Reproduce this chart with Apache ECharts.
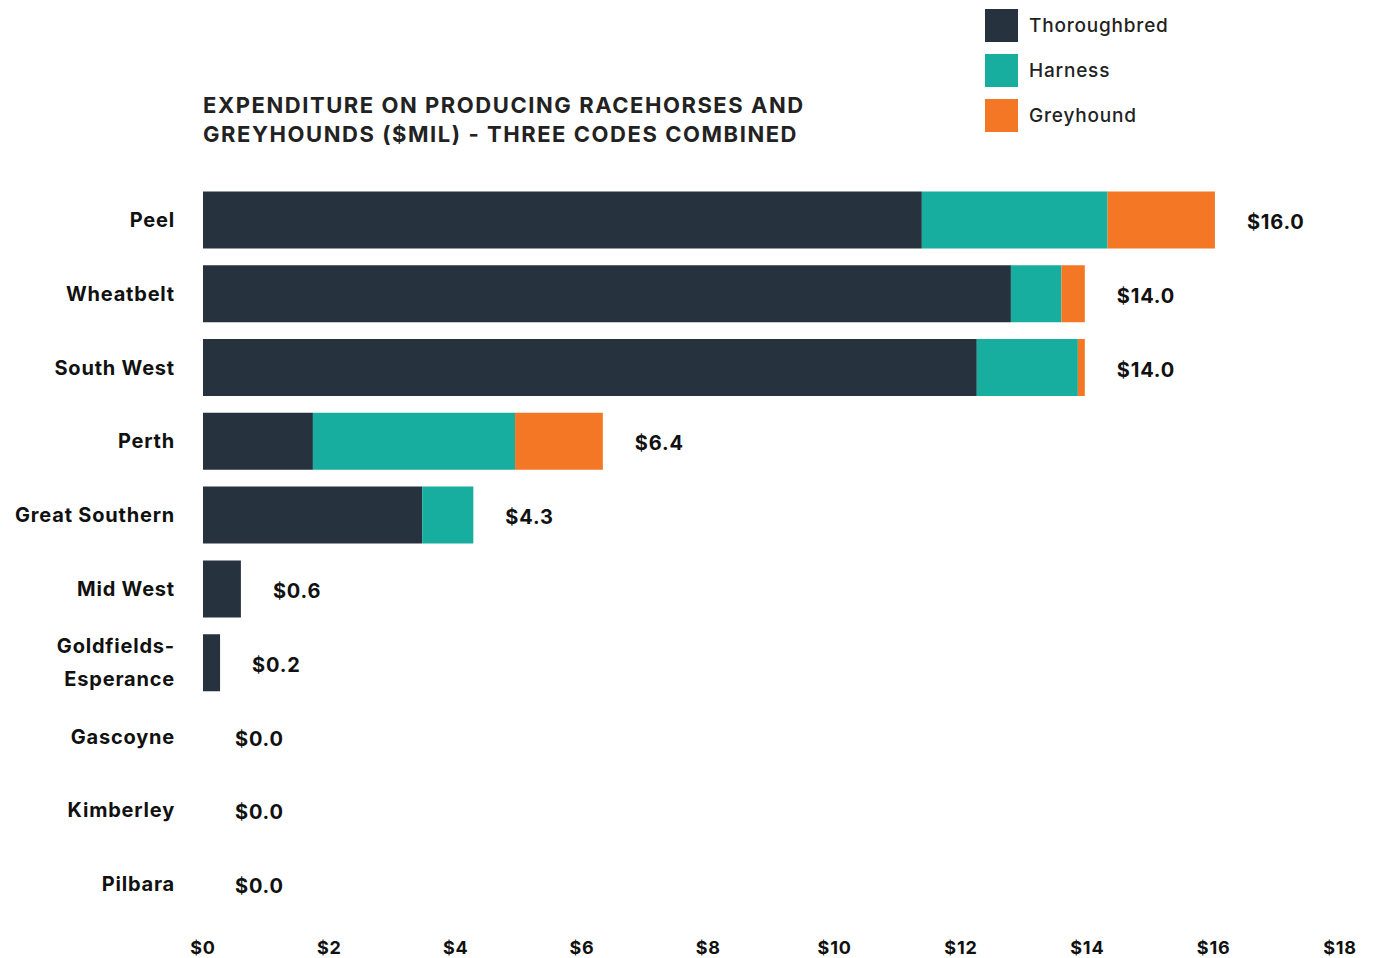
<!DOCTYPE html>
<html>
<head>
<meta charset="utf-8">
<script src="https://cdn.jsdelivr.net/npm/echarts@6/dist/echarts.min.js"></script>
<style>
	html, body { margin: 0; padding: 0; background: #fff; }
	#chart { width: 1375px; height: 958px; }
</style>
</head>
<body>
<div id="chart"></div>
<script>
// regions, top to bottom
var regions = ['Peel', 'Wheatbelt', 'South West', 'Perth', 'Great Southern', 'Mid West',
	'Goldfields-\nEsperance', 'Gascoyne', 'Kimberley', 'Pilbara'];
var thoroughbred = [11.38, 12.79, 12.25, 1.74, 3.47, 0.60, 0.27, 0, 0, 0];
var harness = [2.94, 0.80, 1.60, 3.20, 0.81, 0, 0, 0, 0, 0];
var greyhound = [1.70, 0.37, 0.11, 1.39, 0, 0, 0, 0, 0, 0];
var totals = [16.0, 14.0, 14.0, 6.4, 4.3, 0.6, 0.2, 0.0, 0.0, 0.0];

var font = 'Inter, "Open Sans", sans-serif';
var colors = { t: '#26323d', h: '#17ae9f', g: '#f47726' };
var titleText = 'EXPENDITURE ON PRODUCING RACEHORSES AND\nGREYHOUNDS ($MIL) - THREE CODES COMBINED';

// position of the total label = end of the stack
var stackEnd = [];
for( var i = 0; i < regions.length; i++ ){
	stackEnd.push( [thoroughbred[i] + harness[i] + greyhound[i], regions[i]] );
}

var barSeries = function(name, data, color){
	return {
		name: name,
		type: 'bar',
		stack: 'all',
		data: data,
		barWidth: 57,
		itemStyle: { color: color },
		emphasis: { disabled: true }
	};
};

var chart = echarts.init( document.getElementById( 'chart' ), null, { renderer: 'svg' } );

// the original font is wide and loosely spaced, so open up the letters a bit
var spaceLetters = function(){
	var texts = document.querySelectorAll( '#chart svg text' );
	for( var i = 0; i < texts.length; i++ ){
		var t = texts[i];
		var s = t.textContent;
		if( titleText.indexOf( s ) >= 0 && s.length > 20 ){
			t.setAttribute( 'letter-spacing', '1.55' );
		}else{
			t.setAttribute( 'letter-spacing', '0.8' );
		}
	}
};

chart.on( 'finished', spaceLetters );

chart.setOption( {
	animation: false,
	title: {
		text: titleText,
		left: 203,
		top: 90,
		padding: 0,
		textStyle: {
			fontFamily: font,
			fontSize: 22,
			fontWeight: 'bold',
			color: '#222',
			lineHeight: 29
		}
	},
	legend: {
		data: ['Thoroughbred', 'Harness', 'Greyhound'],
		orient: 'vertical',
		left: 985,
		top: 9,
		padding: 0,
		icon: 'rect',
		itemWidth: 33,
		itemHeight: 33,
		itemGap: 12,
		selectedMode: false,
		textStyle: {
			fontFamily: font,
			fontSize: 19,
			fontWeight: 500,
			color: '#222',
			padding: [0, 0, 0, 6]
		}
	},
	grid: {
		left: 203,
		right: 35,
		top: 183,
		bottom: 37,
		containLabel: false
	},
	xAxis: {
		type: 'value',
		min: 0,
		max: 18,
		interval: 2,
		axisLine: { show: false },
		axisTick: { show: false },
		splitLine: { show: false },
		axisLabel: {
			margin: 17,
			fontFamily: font,
			fontSize: 18,
			fontWeight: 'bold',
			color: '#111',
			formatter: function(v){ return '$' + v; }
		}
	},
	yAxis: {
		type: 'category',
		data: regions,
		inverse: true,
		axisLine: { show: false },
		axisTick: { show: false },
		axisLabel: {
			margin: 28,
			fontFamily: font,
			fontSize: 20,
			fontWeight: 'bold',
			color: '#111',
			lineHeight: 33,
			padding: [0, 0, 6, 0]
		}
	},
	series: [
		barSeries( 'Thoroughbred', thoroughbred, colors.t ),
		barSeries( 'Harness', harness, colors.h ),
		barSeries( 'Greyhound', greyhound, colors.g ),
		{
			name: 'Total',
			type: 'scatter',
			data: stackEnd,
			symbolSize: 0,
			silent: true,
			itemStyle: { opacity: 1 },
			label: {
				show: true,
				position: 'right',
				distance: 32,
				offset: [0, 2],
				fontFamily: font,
				fontSize: 20,
				fontWeight: 'bold',
				color: '#111',
				formatter: function(p){ return '$' + totals[p.dataIndex].toFixed( 1 ); }
			}
		}
	]
} );
spaceLetters();
</script>
</body>
</html>
